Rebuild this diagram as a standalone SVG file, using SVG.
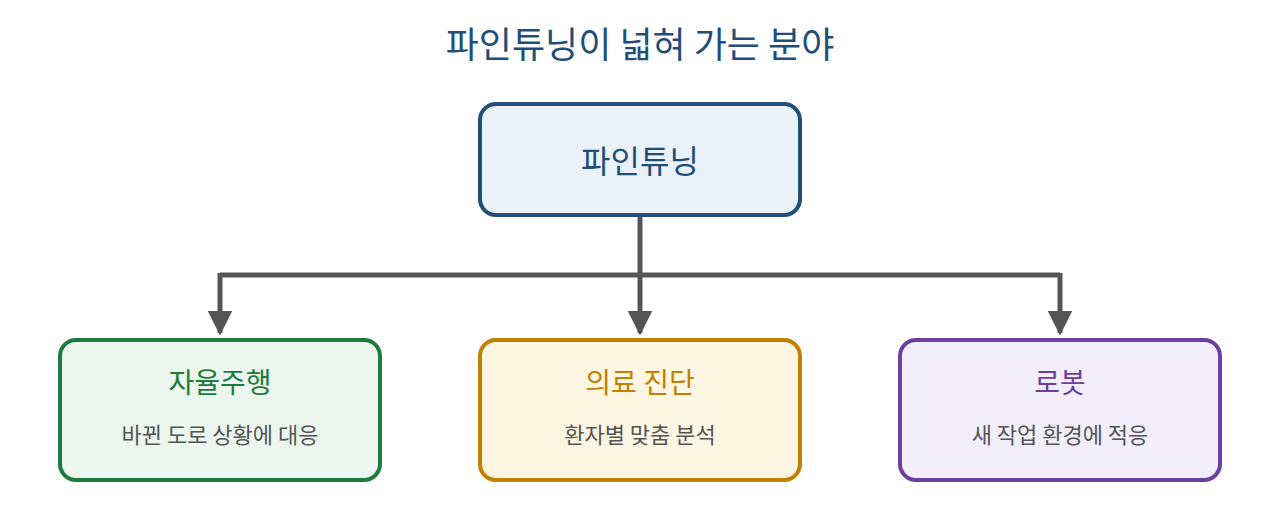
<svg xmlns="http://www.w3.org/2000/svg" width="1280" height="520" viewBox="0 0 1280 520">
<style>
text{font-family:"Noto Sans CJK KR","Noto Sans",sans-serif;text-anchor:middle}
.box{stroke-width:4}
.t{font-size:28px}
.s{font-size:22px;fill:#555}
.c{stroke:#555;stroke-width:5;fill:none}
</style>
<defs><marker id="a" viewBox="0 0 10 10" refX="9" refY="5" markerWidth="5" markerHeight="5" markerUnits="strokeWidth" orient="auto"><path d="M0,0L10,5L0,10z" fill="#555"/></marker></defs>
<rect width="1280" height="520" fill="#fff"/>
<text x="640" y="58" style="font-size:36px;fill:#1f4e79">파인튜닝이 넓혀 가는 분야</text>
<g id="connectors">
<path class="c" d="M640,216V275M220,275H1060"/>
<path class="c" d="M220,273V333" marker-end="url(#a)"/>
<path class="c" d="M640,273V333" marker-end="url(#a)"/>
<path class="c" d="M1060,273V333" marker-end="url(#a)"/>
</g>
<g id="root"><rect class="box" x="480" y="104" width="320" height="111" rx="16" fill="#eaf1f8" stroke="#1f4e79"/><text x="640" y="173" style="font-size:32px;fill:#1f4e79">파인튜닝</text></g>
<g id="n1"><rect class="box" x="60" y="340" width="320" height="140" rx="16" fill="#eaf6ee" stroke="#1e7b3c"/><text class="t" x="220" y="393" fill="#1e7b3c">자율주행</text><text class="s" x="220" y="443">바뀐 도로 상황에 대응</text></g>
<g id="n2"><rect class="box" x="480" y="340" width="320" height="140" rx="16" fill="#fdf6e3" stroke="#c08000"/><text class="t" x="640" y="393" fill="#c08000">의료 진단</text><text class="s" x="640" y="443">환자별 맞춤 분석</text></g>
<g id="n3"><rect class="box" x="900" y="340" width="320" height="140" rx="16" fill="#f2eefb" stroke="#6b3fa0"/><text class="t" x="1060" y="393" fill="#6b3fa0">로봇</text><text class="s" x="1060" y="443">새 작업 환경에 적응</text></g>
</svg>
